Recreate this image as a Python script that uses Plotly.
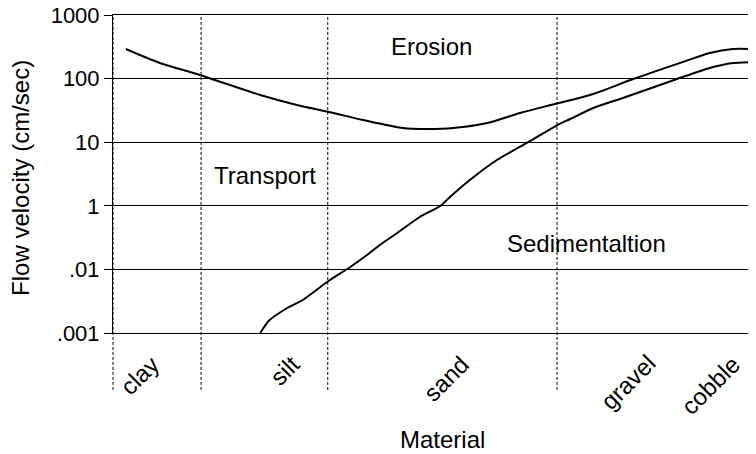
import plotly.graph_objects as go

# Material axis: arbitrary grain-size position scale (0..10)
X_RANGE = [0, 10]

# Y axis: decade positions and their (as printed) labels
y_tickvals = [3, 2, 1, 0, -1, -2]
y_ticktext = ["1000", "100", "10", "1", ".01", ".001"]

# Erosion threshold curve (upper)
erosion_x = [0.20, 0.73, 1.35, 2.29, 2.86, 3.36, 3.89, 4.51, 4.88, 5.29,
             5.82, 6.33, 6.87, 7.47, 8.09, 8.86, 9.28, 9.64, 9.94]
erosion_y = [2.465, 2.245, 2.057, 1.742, 1.585, 1.475, 1.349, 1.223, 1.208,
             1.223, 1.302, 1.459, 1.601, 1.758, 1.994, 2.261, 2.403, 2.465, 2.465]

# Sedimentation threshold curve (lower)
sed_x = [2.29, 2.42, 2.71, 2.95, 3.33, 3.69, 3.95, 4.15, 4.42, 4.77, 5.09, 5.24,
         5.55, 5.97, 6.49, 6.91, 7.11, 7.47, 7.93, 8.77, 9.28, 9.64, 9.94]
sed_y = [-2.0, -1.810, -1.607, -1.481, -1.198, -0.962, -0.774, -0.616, -0.428,
         -0.176, -0.003, 0.138, 0.406, 0.720, 1.019, 1.270, 1.365, 1.538, 1.695,
         1.994, 2.167, 2.245, 2.261]

# Material class boundaries and labels
boundaries = [0.0, 1.37, 3.34, 6.905]
materials = ["clay", "silt", "sand", "gravel", "cobble"]
material_label_x = [0.84, 3.03, 5.66, 8.56, 9.87]  # right end of each rotated label

# Region labels
regions = ["Erosion", "Transport", "Sedimentaltion"]
region_x = [4.95, 2.36, 7.37]
region_y = [2.50, 0.47, -0.585]

FONT = "Liberation Sans, Arial, sans-serif"
FS = 24
TFS = 22

fig = go.Figure()
for xs, ys, sm in [(erosion_x, erosion_y, 0.8), (sed_x, sed_y, 0.6)]:
    fig.add_trace(go.Scatter(x=xs, y=ys, mode="lines",
                             line=dict(color="black", width=2, shape="spline", smoothing=sm),
                             showlegend=False, hoverinfo="skip"))

def xpaper(v):
    return (v - X_RANGE[0]) / (X_RANGE[1] - X_RANGE[0])

for b in boundaries:
    fig.add_shape(type="line", xref="paper", yref="paper",
                  x0=xpaper(b), x1=xpaper(b), y0=-0.179, y1=1,
                  line=dict(color="black", width=1, dash="3px,2px"), layer="below")

for name, lx in zip(materials, material_label_x):
    fig.add_annotation(x=lx, xref="x", y=-0.046, yref="paper", text=name,
                       textangle=-45, showarrow=False, xanchor="right", yanchor="top",
                       font=dict(family=FONT, size=FS, color="black"))

for name, rx, ry in zip(regions, region_x, region_y):
    fig.add_annotation(x=rx, y=ry, xref="x", yref="y", text=name, showarrow=False,
                       xanchor="center", yanchor="middle",
                       font=dict(family=FONT, size=FS, color="black"))

fig.add_annotation(text="Material", xref="paper", yref="paper", x=0.512, y=-0.336,
                   showarrow=False, xanchor="center", yanchor="middle",
                   font=dict(family=FONT, size=FS, color="black"))
fig.add_annotation(text="Flow velocity (cm/sec)", xref="paper", yref="paper",
                   x=-0.145, y=0.487, textangle=-90, showarrow=False,
                   xanchor="center", yanchor="middle",
                   font=dict(family=FONT, size=FS, color="black"))

fig.update_xaxes(range=X_RANGE, showgrid=False, zeroline=False, showticklabels=False,
                 showline=True, mirror=True, linecolor="black", linewidth=1, ticks="")
fig.update_yaxes(range=[-2, 3], tickvals=y_tickvals, ticktext=y_ticktext,
                 showgrid=True, gridcolor="black", gridwidth=1, zeroline=False,
                 showline=True, linecolor="black", linewidth=1,
                 ticks="outside", ticklen=8, tickcolor="black", tickwidth=1,
                 ticklabelstandoff=0, ticklabeloverflow="allow", automargin=False,
                 tickfont=dict(family=FONT, size=TFS, color="black"))

# page body has an 8px margin, so the figure is offset by (8, 8) in the window
fig.update_layout(width=748, height=446, margin=dict(l=105, r=0, t=7, b=121),
                  plot_bgcolor="white", paper_bgcolor="white")

fig.write_html("out.html")
